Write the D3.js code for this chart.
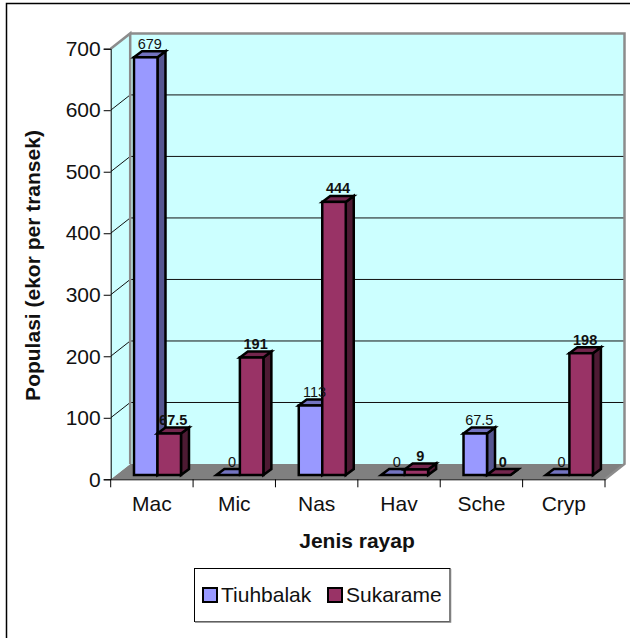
<!DOCTYPE html>
<html>
<head>
<meta charset="utf-8">
<script src="https://cdn.jsdelivr.net/npm/d3@7"></script>
<style>
  html, body { margin: 0; padding: 0; background: #fff; }
  svg { display: block; }
  text { font-family: "Liberation Sans", Arial, sans-serif; fill: #111; }
</style>
</head>
<body>
<div id="chart"></div>
<script>
// Data
const categories = ["Mac", "Mic", "Nas", "Hav", "Sche", "Cryp"];
const seriesNames = ["Tiuhbalak", "Sukarame"];
const tiuhbalak = [679, 0, 113, 0, 67.5, 0];
const sukarame = [67.5, 191, 444, 9, 0, 198];
const yTicks = [0, 100, 200, 300, 400, 500, 600, 700];

const seriesValues = [tiuhbalak, sukarame];

// Colours per series: front, side, top
const palette = [
  { front: "#9999ff", side: "#565690", top: "#7373c0" },
  { front: "#993366", side: "#4d1a33", top: "#73264d" }
];

const svg = d3.select("#chart").append("svg")
  .attr("width", 630)
  .attr("height", 638);

// Outer frame only shows on the top and left
svg.append("path")
  .attr("d", "M6.5,638V3.5H630")
  .attr("fill", "none")
  .attr("stroke", "#000")
  .attr("stroke-width", 1.5);

// Scales are for the front plane of the 3D box
const x = d3.scaleBand().domain(categories).range([110.7, 605]);
const y = d3.scaleLinear().domain([0, 700]).range([479.3, 48.7]);

// Depth of the box, and of the bars
const depthX = 19.5, depthY = -15.3;
const barW = 23.5, barDX = 8, barDY = -6;
const barBaseDY = -4.3, barShift = 5.6;

const left = x.range()[0], right = x.range()[1];
const poly = pts => "M" + pts.map(p => p.join(",")).join("L") + "Z";

// Floor and walls
svg.append("path")
  .attr("d", poly([[left, y(0)], [right, y(0)], [right + depthX, y(0) + depthY], [left + depthX, y(0) + depthY]]))
  .attr("fill", "#808080");

svg.append("path")
  .attr("d", poly([[left, y(0)], [left + depthX, y(0) + depthY], [left + depthX, y(700) + depthY], [left, y(700)]]))
  .attr("fill", "#ccffff");

svg.append("rect")
  .attr("x", left + depthX)
  .attr("y", y(700) + depthY)
  .attr("width", right - left)
  .attr("height", y(0) - y(700))
  .attr("fill", "#ccffff");

// Gridlines go along the side wall and the back wall
svg.append("g").selectAll("path")
  .data(yTicks.filter(d => d > 0 && d < 700))
  .enter().append("path")
    .attr("d", d => `M${left},${y(d)}L${left + depthX},${y(d) + depthY}H${right + depthX}`)
    .attr("fill", "none")
    .attr("stroke", "#111")
    .attr("stroke-width", 1);

// Grey edge of the walls
svg.append("path")
  .attr("d", `M${left},${y(700)}L${left + depthX},${y(700) + depthY}V${y(0) + depthY}M${left + depthX},${y(700) + depthY}H${right + depthX}V${y(0) + depthY}L${right},${y(0)}`)
  .attr("fill", "none")
  .attr("stroke", "#8c8c8c")
  .attr("stroke-width", 2.5);

// Bars
const barsG = svg.append("g");
const labels = [];
categories.forEach((cat, c) => {
  seriesValues.forEach((vals, s) => {
    const v = vals[c];
    const x0 = x(cat) + x.bandwidth() / 2 + barShift - barW + s * barW;
    const x1 = x0 + barW;
    const yb = y(0) + barBaseDY;
    const yt = y(v) + barBaseDY;
    const g = barsG.append("g")
      .attr("stroke", "#000")
      .attr("stroke-width", 2.5)
      .attr("stroke-linejoin", "miter");
    g.append("path")
      .attr("d", poly([[x1, yb], [x1 + barDX, yb + barDY], [x1 + barDX, yt + barDY], [x1, yt]]))
      .attr("fill", palette[s].side);
    g.append("path")
      .attr("d", poly([[x0, yt], [x0 + barDX, yt + barDY], [x1 + barDX, yt + barDY], [x1, yt]]))
      .attr("fill", palette[s].top);
    if (v > 0) {
      g.append("rect")
        .attr("x", x0)
        .attr("y", yt)
        .attr("width", barW)
        .attr("height", yb - yt)
        .attr("fill", palette[s].front);
    }
    labels.push({ v, s, cx: (x0 + x1) / 2 + 4, top: yt });
  });
});

// Value labels on top of the bars
svg.append("g").selectAll("text")
  .data(labels)
  .enter().append("text")
    .attr("x", d => d.cx)
    .attr("y", d => d.top - 8.5)
    .attr("text-anchor", "middle")
    .attr("font-size", 14.5)
    .attr("font-weight", d => d.s === 1 ? "bold" : "normal")
    .text(d => d.v);

// Axes
const yAxis = svg.append("g")
  .attr("transform", `translate(${left},0)`)
  .call(d3.axisLeft(y).tickValues(yTicks).tickSize(7).tickPadding(3));

const xAxis = svg.append("g")
  .attr("transform", `translate(0,${y(0)})`)
  .call(d3.axisBottom(x).tickSize(0).tickPadding(17));

// Category ticks sit between the bands
svg.append("g").selectAll("line")
  .data(d3.range(categories.length + 1))
  .enter().append("line")
    .attr("x1", i => left + i * x.bandwidth())
    .attr("x2", i => left + i * x.bandwidth())
    .attr("y1", y(0))
    .attr("y2", y(0) + 8)
    .attr("stroke", "#000");

[yAxis, xAxis].forEach(a => {
  a.selectAll("text").style("font-size", "21px").style("font-family", '"Liberation Sans", Arial, sans-serif');
  a.selectAll("path, line").attr("stroke", "#000").attr("stroke-width", 1);
});

// Axis titles
svg.append("text")
  .attr("x", 357)
  .attr("y", 548)
  .attr("text-anchor", "middle")
  .attr("font-size", 21)
  .attr("font-weight", "bold")
  .text("Jenis rayap");

svg.append("text")
  .attr("transform", "translate(40,265.5) rotate(-90)")
  .attr("text-anchor", "middle")
  .attr("font-size", 21)
  .attr("font-weight", "bold")
  .text("Populasi (ekor per transek)");

// Legend
const legend = svg.append("g");
legend.append("rect")
  .attr("x", 194.5)
  .attr("y", 568.5)
  .attr("width", 255.5)
  .attr("height", 53)
  .attr("fill", "#fff")
  .attr("stroke", "#000");
legend.append("path")
  .attr("d", "M195,622H450.5V569")
  .attr("fill", "none")
  .attr("stroke", "#808080")
  .attr("stroke-width", 1.5);

const legendItems = legend.selectAll("g")
  .data(seriesNames)
  .enter().append("g")
    .attr("transform", (d, i) => `translate(${i === 0 ? 203 : 328},0)`);

legendItems.append("rect")
  .attr("y", 588)
  .attr("width", 14)
  .attr("height", 14)
  .attr("fill", (d, i) => palette[i].front)
  .attr("stroke", "#000")
  .attr("stroke-width", 2);

legendItems.append("text")
  .attr("x", 18)
  .attr("y", 602)
  .attr("font-size", 21)
  .text(d => d);
</script>
</body>
</html>
